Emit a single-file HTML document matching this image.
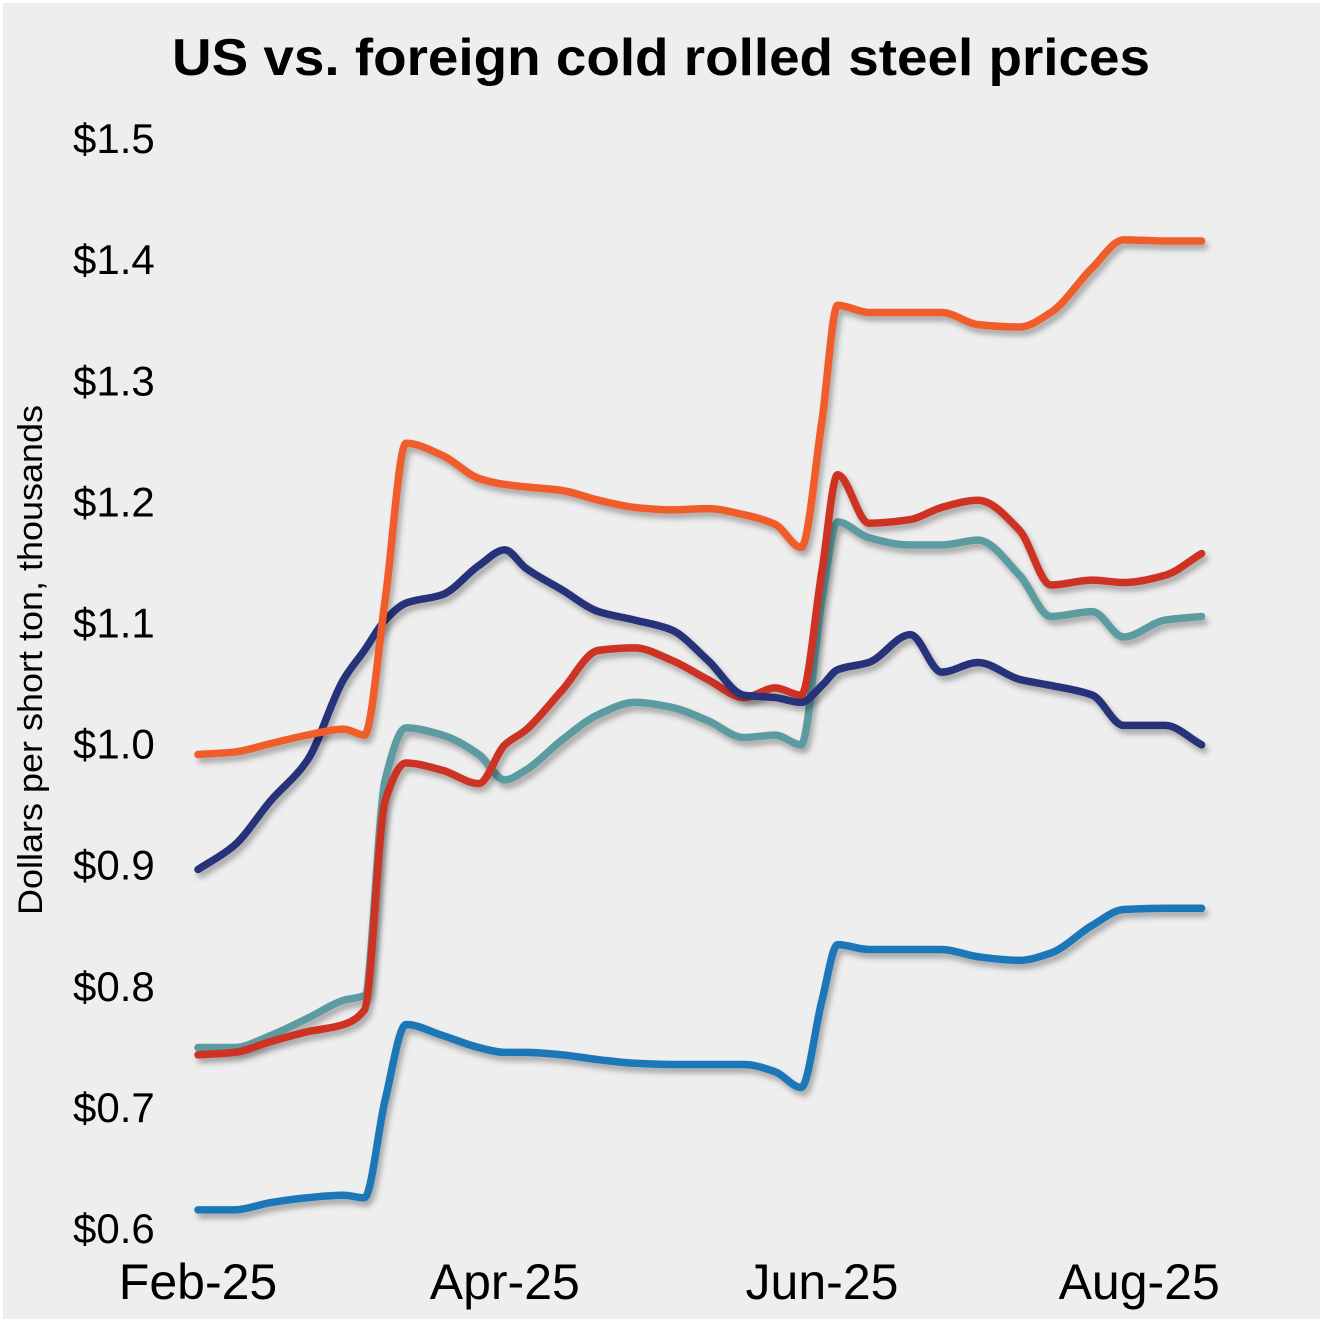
<!DOCTYPE html>
<html><head><meta charset="utf-8"><style>
html,body{margin:0;padding:0;background:#fff;}
svg{display:block;font-family:"Liberation Sans",Helvetica,Arial,sans-serif;}
</style></head><body>
<svg id="chart" width="1323" height="1323" viewBox="0 0 1323 1323">
<defs><filter id="sh" x="-5%" y="-5%" width="110%" height="115%"><feDropShadow dx="3" dy="5" stdDeviation="3" flood-color="#000" flood-opacity="0.3"/></filter></defs>
<rect x="3" y="3" width="1317" height="1316" fill="#eeeeee"/>
<text x="661" y="75" text-anchor="middle" font-size="52" font-weight="bold" textLength="978" lengthAdjust="spacingAndGlyphs">US vs. foreign cold rolled steel prices</text>
<text transform="translate(42,660) rotate(-90)" text-anchor="middle" font-size="34" textLength="510" lengthAdjust="spacingAndGlyphs">Dollars per short ton, thousands</text>
<g id="yt"></g><g id="xt"></g><g id="lines"></g>
</svg>
<script>
const days=[0,7,14,21,28,32,36,40,47,54,59,63,70,77,84,91,98,105,111,116,120,123,129,137,143,150,158,164,172,178,186,193];
const orange=[0.991,0.993,1.0,1.007,1.012,1.007,1.119,1.248,1.238,1.219,1.214,1.212,1.209,1.201,1.195,1.193,1.194,1.189,1.181,1.162,1.267,1.362,1.356,1.356,1.356,1.346,1.344,1.356,1.393,1.416,1.415,1.415];
const navy=[0.896,0.916,0.953,0.986,1.053,1.077,1.102,1.116,1.123,1.147,1.16,1.145,1.127,1.109,1.102,1.094,1.069,1.04,1.038,1.034,1.048,1.061,1.067,1.09,1.059,1.067,1.053,1.048,1.04,1.015,1.015,0.999];
const red=[0.743,0.745,0.754,0.762,0.768,0.78,0.953,0.984,0.978,0.967,0.999,1.011,1.044,1.077,1.079,1.069,1.053,1.038,1.046,1.04,1.143,1.222,1.182,1.185,1.195,1.201,1.176,1.131,1.135,1.133,1.139,1.157];
const teal=[0.749,0.749,0.759,0.773,0.788,0.792,0.970,1.013,1.007,0.991,0.97,0.978,1.003,1.024,1.034,1.03,1.019,1.005,1.007,0.999,1.119,1.183,1.17,1.164,1.164,1.168,1.139,1.105,1.109,1.088,1.102,1.105];
const blue=[0.615,0.615,0.621,0.625,0.627,0.625,0.706,0.768,0.759,0.749,0.745,0.745,0.743,0.739,0.736,0.735,0.735,0.735,0.729,0.716,0.788,0.834,0.830,0.830,0.830,0.824,0.821,0.827,0.85,0.863,0.864,0.864];
const yTicks=[0.6,0.7,0.8,0.9,1.0,1.1,1.2,1.3,1.4,1.5];
const xTickDays=[0,59,120,181];
const xTickLabels=["Feb-25","Apr-25","Jun-25","Aug-25"];
const NS="http://www.w3.org/2000/svg";
const xs=d=>198+d*5.2;
const ys=v=>1228-(v-0.6)*1211;
const yt=document.getElementById('yt'),xt=document.getElementById('xt'),lg=document.getElementById('lines');
yTicks.forEach(v=>{const t=document.createElementNS(NS,'text');


t.setAttribute('x',73);t.setAttribute('y',ys(v)+15);t.setAttribute('font-size','42');
t.textContent='$'+v.toFixed(1);yt.appendChild(t);});
xTickDays.forEach((d,i)=>{const t=document.createElementNS(NS,'text');


t.setAttribute('x',xs(d));t.setAttribute('y',1299);t.setAttribute('font-size','50');t.setAttribute('text-anchor','middle');
t.textContent=xTickLabels[i];xt.appendChild(t);});
function mono(xa,ya){const n=xa.length,dx=[],m=[],t=[];
for(let i=0;i<n-1;i++){dx[i]=xa[i+1]-xa[i];m[i]=(ya[i+1]-ya[i])/dx[i];}
t[0]=m[0];t[n-1]=m[n-2];
for(let i=1;i<n-1;i++){if(m[i-1]*m[i]<=0)t[i]=0;else{const w1=2*dx[i]+dx[i-1],w2=dx[i]+2*dx[i-1];t[i]=(w1+w2)/(w1/m[i-1]+w2/m[i]);}}
let p='M'+xa[0]+','+ya[0];
for(let i=0;i<n-1;i++){const h=dx[i]/3;p+=' C'+(xa[i]+h)+','+(ya[i]+t[i]*h)+' '+(xa[i+1]-h)+','+(ya[i+1]-t[i+1]*h)+' '+xa[i+1]+','+ya[i+1];}
return p;}
const series=[[blue,'#1f77b9','line-blue'],[teal,'#5b9ca0','line-teal'],[red,'#cd3222','line-red'],[navy,'#26337a','line-navy'],[orange,'#f05d2b','line-orange']];
series.forEach(s=>{const p=document.createElementNS(NS,'path');


p.setAttribute('d',mono(days.map(xs),s[0].map(ys)));
p.setAttribute('fill','none');p.setAttribute('stroke',s[1]);p.setAttribute('stroke-width','7.5');
p.setAttribute('stroke-linecap','round');p.setAttribute('stroke-linejoin','round');p.setAttribute('filter','url(#sh)');
lg.appendChild(p);});
</script>
</body></html>
